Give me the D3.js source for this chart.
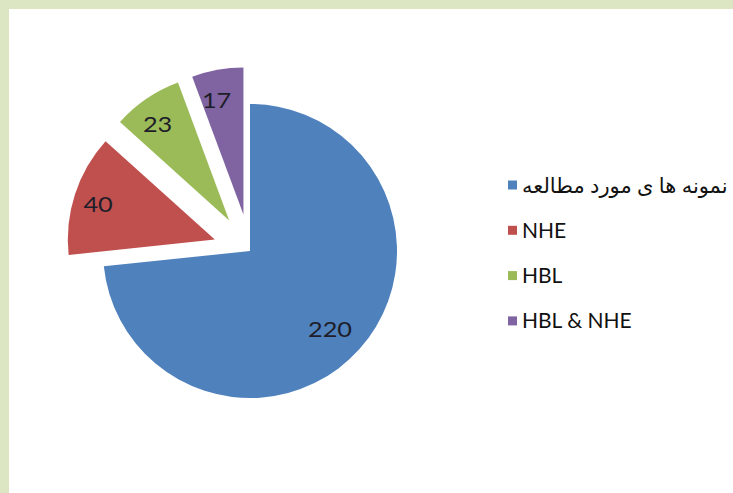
<!DOCTYPE html>
<html>
<head>
<meta charset="utf-8">
<script src="https://cdn.jsdelivr.net/npm/d3@7"></script>
<style>
  body { margin: 0; background: #fff; }
  #app { width: 733px; height: 493px; }
</style>
</head>
<body>
<div id="app"></div>
<script>
const categories = ["نمونه ها ی مورد مطالعه", "NHE", "HBL", "HBL & NHE"];
const values = [220, 40, 23, 17];
const exploded = [false, true, true, true];
const colors = ["#4f81bd", "#c0504d", "#9bbb59", "#8064a2"];

const chart = () => {
  const width = 733;
  const height = 493;
  const cx = 250;
  const cy = 251;
  const radius = 147;
  const explode = 37;

  const svg = d3.create("svg").attr("width", width).attr("height", height);

  // green page frame on left and top
  svg.append("rect").attr("width", width).attr("height", height).attr("fill", "#fff");
  svg.append("rect").attr("width", 9).attr("height", height).attr("fill", "#dce6c2");
  svg.append("rect").attr("width", width).attr("height", 9).attr("fill", "#dce6c2");

  const data = categories.map((c, i) => ({ name: c, value: values[i], exploded: exploded[i], color: colors[i] }));

  const pie = d3.pie().sort(null).value((d) => d.value);
  const arc = d3.arc().innerRadius(0).outerRadius(radius);
  const labelArc = d3.arc().innerRadius(radius * 0.79).outerRadius(radius * 0.79);

  const slices = svg
    .append("g")
    .attr("transform", `translate(${cx},${cy})`)
    .selectAll("g")
    .data(pie(data))
    .enter()
    .append("g")
    .attr("transform", (d) => {
      if (!d.data.exploded) return null;
      const a = (d.startAngle + d.endAngle) / 2;
      return `translate(${Math.sin(a) * explode},${-Math.cos(a) * explode})`;
    });

  slices.append("path").attr("d", arc).attr("fill", (d) => d.data.color);

  slices
    .append("text")
    .text((d) => d.data.value)
    .attr("transform", (d) => `translate(${labelArc.centroid(d)}) scale(1.15,1)`)
    .attr("text-anchor", "middle")
    .attr("dx", -5.5)
    .attr("dy", "0.36em")
    .style("font-family", "Lato, 'Open Sans', sans-serif")
    .style("font-size", "22px")
    .attr("fill", "#1e1e2a");

  const legend = svg
    .append("g")
    .selectAll("g")
    .data(data)
    .enter()
    .append("g")
    .attr("transform", (d, i) => `translate(508,${185 + i * 45.3})`);

  legend
    .append("rect")
    .attr("y", -4.5)
    .attr("width", 9)
    .attr("height", 9)
    .attr("fill", (d) => d.color);

  legend
    .append("text")
    .text((d) => d.name)
    .attr("x", 14)
    .attr("dy", "0.36em")
    .style("font-family", "Lato, 'DejaVu Sans', sans-serif")
    .style("font-size", "21px")
    .attr("fill", "#111");

  return svg.node();
};

d3.select("#app").append(chart);
</script>
</body>
</html>
